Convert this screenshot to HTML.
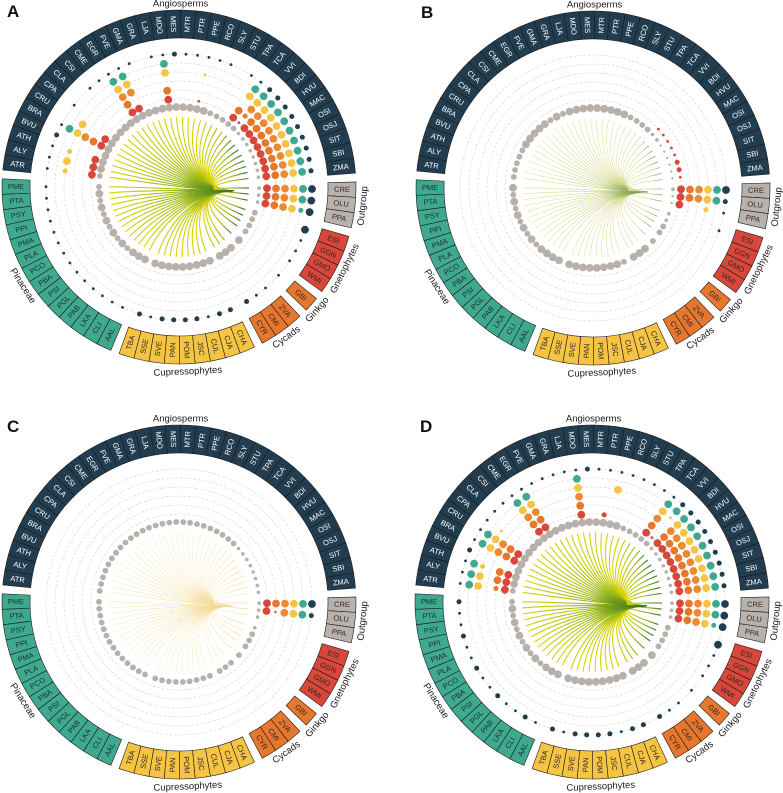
<!DOCTYPE html>
<html><head><meta charset="utf-8">
<style>
html,body{margin:0;padding:0;background:#fff;}
svg{display:block;font-family:"Liberation Sans",sans-serif;}
</style></head>
<body>
<svg id="fig" width="783" height="793" viewBox="0 0 783 793" xmlns="http://www.w3.org/2000/svg">
<defs>
<linearGradient id="gradFull" gradientUnits="objectBoundingBox" x1="0" y1="0" x2="1" y2="0">
<stop offset="0" stop-color="#d9d400"/><stop offset="0.55" stop-color="#9bb81a"/><stop offset="1" stop-color="#2c6a22"/></linearGradient>
<linearGradient id="gradPale" gradientUnits="objectBoundingBox" x1="0" y1="0" x2="1" y2="0">
<stop offset="0" stop-color="#e2de9a"/><stop offset="0.6" stop-color="#c8cf78"/><stop offset="1" stop-color="#4f7f2a"/></linearGradient>
<linearGradient id="gradFaint" gradientUnits="objectBoundingBox" x1="0" y1="0" x2="1" y2="0">
<stop offset="0" stop-color="#f8ecc4"/><stop offset="1" stop-color="#f1d27a"/></linearGradient>
</defs>
</svg>
<script>
const species = ["ATR","ALY","ATH","BVU","BRA","CRU","CPA","CLA","CSI","CME","EGR","FVE","GMA","GRA","LJA","MDO","MES","MTR","PTR","PPE","RCO","SLY","STU","TPA","TCA","VVI","BDI","HVU","MAC","OSI","OSJ","SIT","SBI","ZMA",
"CRE","OLU","PPA","ESI","GGN","GMO","WMI","GBI","ZVA","CMI","CYR",
"CHA","CJA","CUL","JSC","POM","PAN","SVE","SSE","TBA",
"AAL","CLI","LKA","PAB","PGL","PSI","PBA","PCO","PLA","PMA","PPI","PSY","PTA","PME"];
const groupNames = ["Angiosperms","Outgroup","Gnetophytes","Ginkgo","Cycads","Cupressophytes","Pinaceae"];
const groupSizes = [34,3,4,1,3,9,14];
const groupColors = ["#233d50","#b9b1ac","#d9473a","#e8772e","#e8772e","#f5c443","#3fa98f"];
const groupText = ["#ffffff","#2a2a2a","#2a2a2a","#2a2a2a","#2a2a2a","#2a2a2a","#1d2b33"];
// dot size classes per species: [red, orange, orange2, yellow, teal, navy]
const dotsA = ["300201","300301","300201","000002","333331","300300","000001","000000","000001","000001",
"333331","303331","000001","000000","000001","330331","000002","000001","000001","100101",
"000001","000001","000000","000001","330331","123332","333332","333332","333332","333332",
"333332","333332","333332","333332","333333","333333","333323","000003","000001","000001",
"000001","000001","000001","000001","000002","000002","000002","000001","000002","000002",
"000002","000002","000001","000002","000001","000001","000001","000001","000001","000001",
"000001","000001","000001","000001","000001","000001","000001","000001"];
const dotsB = ["000000","000000","000000","000000","000000","000000","000000","000000","000000","000000",
"000000","000000","000000","000000","000000","000000","000000","000000","000000","000000",
"000000","000000","000000","000000","000000","000000","100000","100000","100000","100000",
"100000","200000","200000","100000","333333","333332","300201","000001","000000","000000",
"000000","000000","000000","000000","000000","000000","000000","000000","000000","000000",
"000000","000000","000000","000000","000000","000000","000000","000000","000000","000000",
"000000","000000","000000","000000","000000","000000","000000","000000"];
const dotsC = ["000000","000000","000000","000000","000000","000000","000000","000000","000000","000000",
"000000","000000","000000","000000","000000","000000","000000","000000","000000","000000",
"000000","000000","000000","000000","000000","000000","000000","000000","000000","000000",
"000000","000000","000000","000000","333333","313332","000000","000000","000000","000000",
"000000","000000","000000","000000","000000","000000","000000","000000","000000","000000",
"000000","000000","000000","000000","000000","000000","000000","000000","000000","000000",
"000000","000000","000000","000000","000000","000000","000000","000000"];
const dotsD = ["320331","330331","330231","000002","333331","333331","000101","000001","000001","333331",
"333331","000001","000001","000001","000001","333331","000002","000001","200001","000301",
"000001","000001","000001","000001","333331","100132","333332","333332","333332","333332",
"333332","333332","333332","333332","333333","333333","333323","000003","000001","000001",
"000001","000001","000001","000001","000002","000002","000002","000001","000002","000002",
"000002","000002","000001","000002","000001","000002","000001","000001","000002","000001",
"000001","000002","000001","000001","000002","000001","000001","000002"];
const grayA = "3444444444444444444443333322222222222333344444444444444443434343434343";
const grayB = "3333344444343444444444333322111111211223334443444444444444343434343434";
const grayC = "3333333333333333333333333322222222222233333333333333333333333333333333";
const grayD = "3444444444444444444443333322222222222333344444444444444443434343434343";

const svg = document.getElementById('fig');
const NS = "http://www.w3.org/2000/svg";
const SLOT = 5, GAP = 2.857, START = 188;
const ringR = [88,97,106,115,124,133];
const ringColors = ["#d9463a","#e8772e","#ec8a33","#f5c443","#3fa98f","#233d50"];
const sizeMap = [0,1.4,2.5,3.9];
const graySize = [0,1.2,1.8,2.9,3.9];
const RIN = 149, ROUT = 177;

function el(tag, attrs, parent){ const e=document.createElementNS(NS,tag); for(const k in attrs) e.setAttribute(k,attrs[k]); (parent||svg).appendChild(e); return e; }
function groupIndex(i){ let acc=0; for(let g=0;g<groupSizes.length;g++){ acc+=groupSizes[g]; if(i<acc) return g; } return 6; }
function angleOf(i){ return START + i*SLOT + GAP*groupIndex(i); }
function pt(cx,cy,r,a){ const t=a*Math.PI/180; return [cx+r*Math.cos(t), cy+r*Math.sin(t)]; }

function drawPanel(cx,cy,letter,dots,gray,fanGrad,fanW,fanOp){
  const G = el('g',{});
  
  
  const L = el('text',{x:cx-172,y:cy-170,'font-size':17,'font-weight':'bold',fill:'#111'},G);
  
  
  L.textContent = letter;
  for(const r of ringR){
    const c = el('circle',{cx:cx,cy:cy,r:r,fill:'none',stroke:'#cfcfcf','stroke-width':0.6,'stroke-dasharray':'2.5 2'},G);
    
    
  }
  const conv=[cx+55,cy+4];
  const fan = el('g',{fill:'none',stroke:'url(#'+fanGrad+')','stroke-width':fanW,opacity:fanOp},G);
  
  
  species.forEach((s,i)=>{
    const a=angleOf(i);
    const p0=pt(cx,cy,70,a), c1=pt(cx,cy,38,a);
    const p = el('path',{d:`M${p0[0].toFixed(1)},${p0[1].toFixed(1)} C${c1[0].toFixed(1)},${c1[1].toFixed(1)} ${cx+18},${cy+3} ${conv[0]},${conv[1]}`},fan);
    
    
  });
  species.forEach((s,i)=>{
    const a=angleOf(i); const q=pt(cx,cy,80,a);
    const d = el('circle',{cx:q[0].toFixed(1),cy:q[1].toFixed(1),r:graySize[+gray[i]],fill:'#b8b0ab'},G);
    
    
  });
  species.forEach((s,i)=>{
    const a=angleOf(i);
    for(let k=0;k<6;k++){
      const v=+dots[i][k]; if(!v) continue;
      const q=pt(cx,cy,ringR[k],a);
      const d = el('circle',{cx:q[0].toFixed(1),cy:q[1].toFixed(1),r:sizeMap[v],fill:ringColors[k]},G);
      
      
    }
  });
  species.forEach((s,i)=>{
    const a=angleOf(i), g=groupIndex(i);
    const a0=a-SLOT/2, a1=a+SLOT/2;
    const p1=pt(cx,cy,ROUT,a0),p2=pt(cx,cy,ROUT,a1),p3=pt(cx,cy,RIN,a1),p4=pt(cx,cy,RIN,a0);
    const path = el('path',{d:`M${p1[0]},${p1[1]} A${ROUT},${ROUT} 0 0 1 ${p2[0]},${p2[1]} L${p3[0]},${p3[1]} A${RIN},${RIN} 0 0 0 ${p4[0]},${p4[1]} Z`,fill:groupColors[g],stroke:'#1b1b1b','stroke-width':0.6},G);
    
    
    const tp=pt(cx,cy,(RIN+ROUT)/2,a);
    let na=((a%360)+360)%360; let rot = (na>90 && na<270)? na+180 : na;
    const t = el('text',{x:tp[0].toFixed(1),y:tp[1].toFixed(1),'font-size':7.5,fill:groupText[g],'text-anchor':'middle','dominant-baseline':'central',transform:`rotate(${rot.toFixed(1)} ${tp[0].toFixed(1)} ${tp[1].toFixed(1)})`},G);
    
    
    t.textContent=s;
  });
  let idx=0;
  groupSizes.forEach((n,g)=>{
    const mid=(angleOf(idx)+angleOf(idx+n-1))/2; idx+=n;
    const na=((mid%360)+360)%360;
    let rot = na-90; let r=185;
    if(g===0){ rot=0; r=183; }
    const tp=pt(cx,cy,r,mid);
    const t = el('text',{x:tp[0].toFixed(1),y:tp[1].toFixed(1),'font-size':9.5,fill:'#1a1a1a','text-anchor':'middle','dominant-baseline':'central',transform:`rotate(${rot.toFixed(1)} ${tp[0].toFixed(1)} ${tp[1].toFixed(1)})`},G);
    
    
    t.textContent=groupNames[g];
  });
}
drawPanel(179,187,'A',dotsA,grayA,'gradFull',1.1,1);
drawPanel(593,188,'B',dotsB,grayB,'gradPale',0.6,0.9);
drawPanel(179,602,'C',dotsC,grayC,'gradFaint',0.6,0.9);
drawPanel(592,602,'D',dotsD,grayD,'gradFull',1.1,1);
</script>
</body></html>
